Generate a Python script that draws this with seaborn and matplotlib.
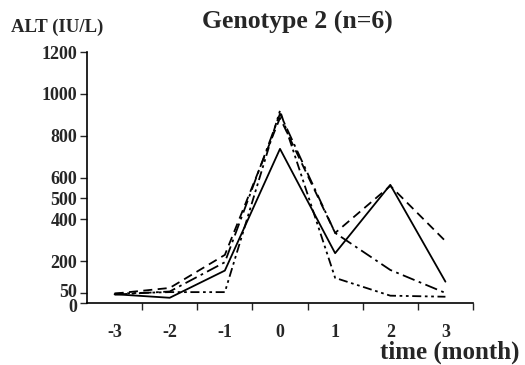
import matplotlib
matplotlib.use("Agg")
import matplotlib.pyplot as plt
import matplotlib.transforms as mtransforms
import pandas as pd
import seaborn as sns

months = [-3, -2, -1, 0, 1, 2, 3]
patient_a = [42, 25, 155, 737, 238, 565, 102]   # solid
patient_b = [45, 72, 230, 885, 335, 560, 296]   # dashed
patient_c = [40, 55, 195, 905, 335, 158, 48]    # dash-dot
patient_d = [45, 52, 52, 920, 120, 35, 30]      # dash-dot-dot
y_ticks = [0, 50, 200, 400, 500, 600, 800, 1000, 1200]

df = pd.DataFrame({
    'month': months * 4,
    'alt': patient_a + patient_b + patient_c + patient_d,
    'patient': ['a'] * 7 + ['b'] * 7 + ['c'] * 7 + ['d'] * 7,
})

sns.set_style("ticks")
plt.rcParams['font.family'] = ['Liberation Serif', 'DejaVu Serif']
plt.rcParams['font.weight'] = 'bold'

fig = plt.figure(figsize=(5.25, 3.65), dpi=100)
ax = fig.add_axes([87 / 525, 1 - 303 / 365, 386 / 525, 251 / 365])

sns.lineplot(data=df, x='month', y='alt', style='patient',
             dashes=["", (5, 3), (7, 2.5, 1.5, 2.5), (5, 2, 1.5, 2, 1.5, 2)],
             color='black', linewidth=1.3, legend=False, ax=ax)

ax.set_xlim(-3.5, 3.5)
ax.set_ylim(0, 1200)
ax.set_xticks([-2.5, -1.5, -0.5, 0.5, 1.5, 2.5, 3.5])
ax.set_xticklabels([])
ax.set_xticks(months, minor=True)
ax.set_xticklabels([str(m) for m in months], minor=True, fontsize=13, fontweight='bold')
ax.tick_params(axis='x', which='minor', length=0, pad=15)
ax.tick_params(axis='x', which='major', length=5, width=1, direction='out')
ax.set_yticks(y_ticks)
ax.set_yticklabels([str(v) for v in y_ticks], fontsize=13, fontweight='bold')
ax.tick_params(axis='y', length=5, width=1, pad=2)
ax.set_xlabel('')
ax.set_ylabel('')
sns.despine(ax=ax)
for s in ['left', 'bottom']:
    ax.spines[s].set_linewidth(1.2)
    ax.spines[s].set_color('black')

# "0" and "50" sit nearly on top of each other, nudge them apart a little
ylabels = ax.get_yticklabels()
ylabels[0].set_transform(ylabels[0].get_transform()
                         + mtransforms.ScaledTranslation(0, -3 / 100, fig.dpi_scale_trans))
ylabels[1].set_transform(ylabels[1].get_transform()
                         + mtransforms.ScaledTranslation(0, 2 / 100, fig.dpi_scale_trans))

fig.text(57 / 525, 1 - 27 / 365, 'ALT (IU/L)', fontsize=13.5, fontweight='bold',
         ha='center', va='center')
fig.text(297 / 525, 1 - 22 / 365, 'Genotype 2 (n=6)', fontsize=18.5, fontweight='bold',
         ha='center', va='center')
fig.text(520 / 525, 1 - 352 / 365, 'time (month)', fontsize=18, fontweight='bold',
         ha='right', va='center')

fig.savefig('out.png', dpi=100)
